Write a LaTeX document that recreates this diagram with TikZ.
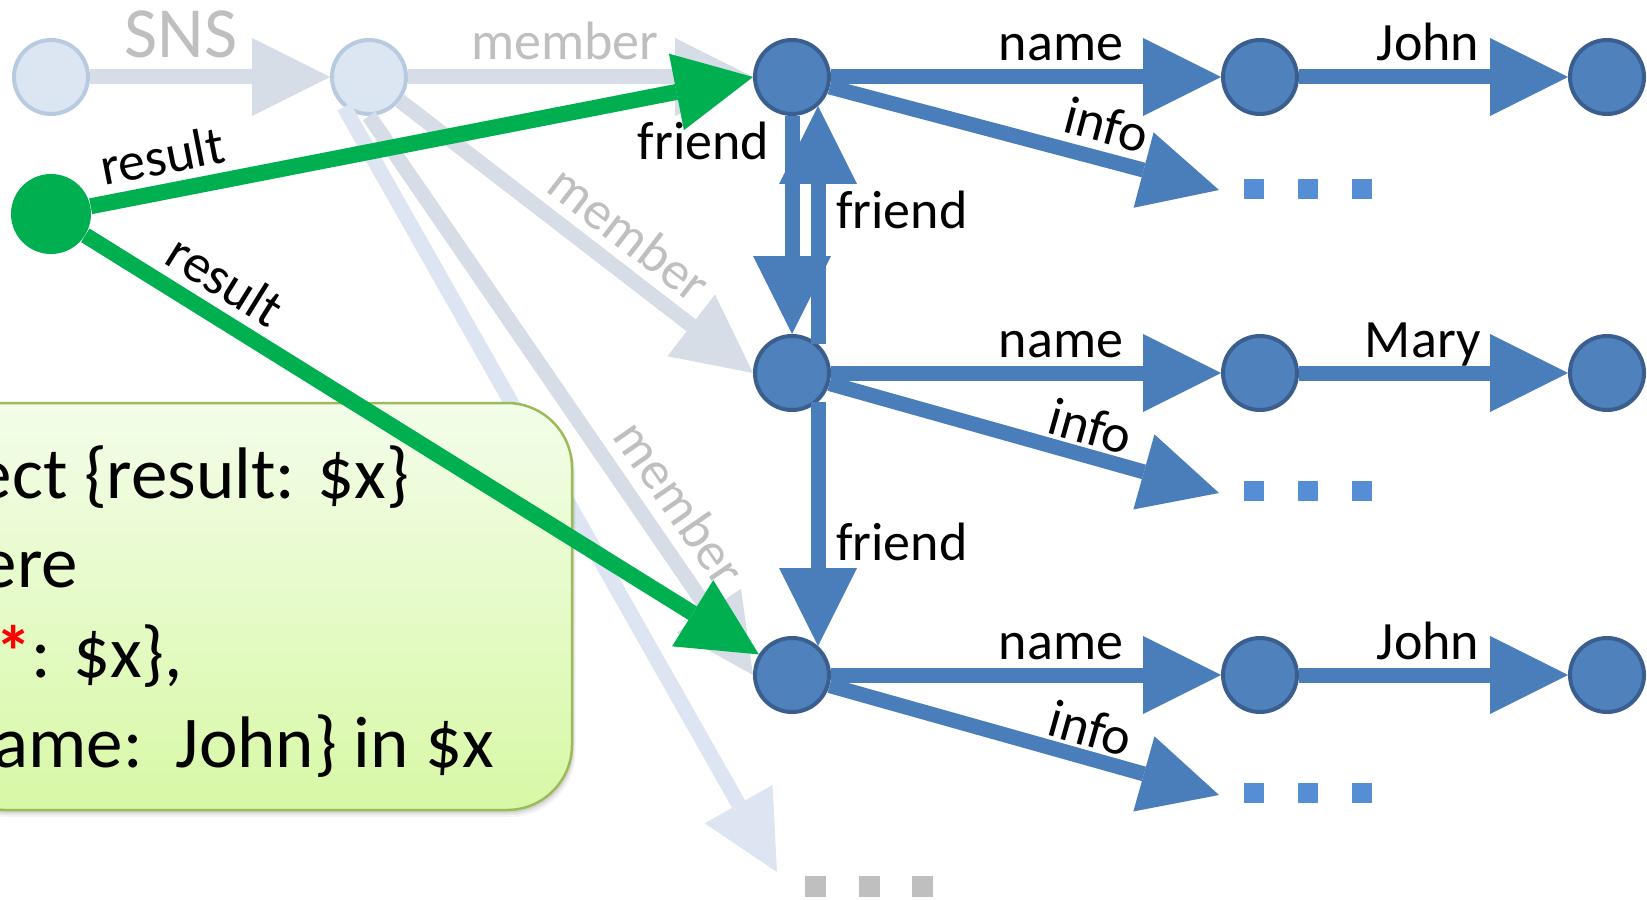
\documentclass[tikz,border=0pt]{standalone}
\usepackage{fontspec}
\setmainfont{Carlito}
\usetikzlibrary{arrows.meta}

\definecolor{nodeblue}{HTML}{4F81BD}
\definecolor{nodeedge}{HTML}{3A5F8E}
\definecolor{linkblue}{HTML}{4A7EBB}
\definecolor{dotblue}{HTML}{558ED5}
\definecolor{fadeline}{HTML}{D6DDE7}
\definecolor{fadelight}{HTML}{DCE5F1}
\definecolor{fadefill}{HTML}{DCE6F2}
\definecolor{fadeedge}{HTML}{B8CAE0}
\definecolor{fadetext}{HTML}{BFBFBF}
\definecolor{resgreen}{HTML}{00B050}
\definecolor{boxedge}{HTML}{9BBB59}
\definecolor{boxtop}{HTML}{F3FDE9}
\definecolor{boxbottom}{HTML}{D8F8A6}

\begin{document}
\begin{tikzpicture}[x=0.5pt, y=-0.5pt,
  vertex/.style={circle, fill=nodeblue, draw=nodeedge, line width=2pt, minimum size=37pt, inner sep=0pt},
  fadedvertex/.style={circle, fill=fadefill, draw=fadeedge, line width=2pt, minimum size=37pt, inner sep=0pt},
  rootvertex/.style={circle, fill=resgreen, minimum size=40pt, inner sep=0pt},
  bigarrow/.style={line width=7.5pt, -{Triangle[length=39pt, width=39pt, line width=0pt]}},
  link/.style={bigarrow, draw=linkblue},
  fadelink/.style={bigarrow, draw=fadeline},
  palelink/.style={bigarrow, draw=fadelight},
  resultlink/.style={line width=8pt, draw=resgreen, -{Triangle[length=39pt, width=39pt, line width=0pt]}},
  lbl/.style={inner sep=0pt, outer sep=0pt, text depth=0pt, text=black, font=\fontsize{27}{32}\selectfont},
  fadelbl/.style={lbl, text=fadetext},
  snslbl/.style={lbl, text=fadetext, font=\fontsize{36}{43}\selectfont},
  querytext/.style={inner sep=0pt, outer sep=0pt, anchor=base east, font=\fontsize{36.5}{44}\selectfont},
  querybox/.style={rectangle, rounded corners=32.5pt, draw=boxedge, line width=1.25pt,
    top color=boxtop, bottom color=boxbottom, minimum width=316pt, minimum height=203.5pt},
]
\useasboundingbox (0,0) rectangle (1647,899);
\clip (0,0) rectangle (1647,899);

% ---- vertices ----
\node[fadedvertex] (F0) at (51,77) {};
\node[fadedvertex] (F1) at (369,77) {};
\node[vertex] (B1) at (792,77) {};
\node[vertex] (B2) at (1260,77) {};
\node[vertex] (B3) at (1607,77) {};
\node[vertex] (C1) at (792,373) {};
\node[vertex] (C2) at (1260,373) {};
\node[vertex] (C3) at (1607,373) {};
\node[vertex] (D1) at (792,675) {};
\node[vertex] (D2) at (1260,675) {};
\node[vertex] (D3) at (1607,675) {};
\coordinate (i1) at (1219,190);
\coordinate (i2) at (1219,493);
\coordinate (i3) at (1219,795);
\coordinate (more) at (777,872);

% ---- faded part of the graph ----
\draw[fadelink] (F0) -- node[snslbl, pos=0.38, above=9.5pt] {SNS} (F1);
\draw[fadelink] (F1) -- node[fadelbl, pos=0.455, above=8.5pt] {member} (B1);
\draw[palelink] (F1.-130) -- (more);
\draw[fadelink] (F1) -- node[fadelbl, pos=0.59, sloped, above=8.5pt] {member} (C1.west);
\draw[fadelink] (F1.south) -- node[fadelbl, pos=0.73, sloped, above=9.5pt] {member} (D1.west);
\foreach \x in {815,869,922}
  \fill[fadetext] (\x-10.5,875.5) rectangle (\x+10.5,896.5);

% ---- persons ----
\draw[link] (B1) -- node[lbl, pos=0.59, above=8pt] {name} (B2);
\draw[link] (B2) -- node[lbl, pos=0.48, above=8pt] {John} (B3);
\draw[link] (B1) -- node[lbl, pos=0.69, sloped, above=8pt] {info} (i1);
\draw[link] (B1) -- node[lbl, pos=0.2, anchor=base east, xshift=-11.5pt] {friend} (C1);
\draw[link] (C1.48) -- node[lbl, pos=0.487, anchor=base west, xshift=9pt] {friend} (B1.-48);

\draw[link] (C1) -- node[lbl, pos=0.59, above=8pt] {name} (C2);
\draw[link] (C2) -- node[lbl, pos=0.46, above=8pt] {Mary} (C3);
\draw[link] (C1) -- node[lbl, pos=0.65, sloped, above=5.5pt] {info} (i2);
\draw[link] (C1.-48) -- node[lbl, pos=0.65, anchor=base west, xshift=9pt] {friend} (D1.48);

\draw[link] (D1) -- node[lbl, pos=0.59, above=8pt] {name} (D2);
\draw[link] (D2) -- node[lbl, pos=0.48, above=8pt] {John} (D3);
\draw[link] (D1) -- node[lbl, pos=0.65, sloped, above=5.5pt] {info} (i3);

\foreach \y in {189,491,793}
  \foreach \x in {1254,1308,1362}
    \fill[dotblue] (\x-10,\y-10) rectangle (\x+10,\y+10);

% ---- query box ----
\foreach \d/\o in {7/0.04, 5/0.06, 3/0.08}
  \fill[black, opacity=\o, rounded corners=32.5pt] (-60+0.5*\d,403+\d) rectangle (572+0.5*\d,810+\d);
\node[querybox] (Q) at (256,606.5) {};
\node[querytext] (q1) at (409,498) {ect \{result: \$x\}};
\node[querytext] (q2) at (78,587) {ere};
\node[querytext] (q3) at (183,677) {\textcolor{red}{\bfseries *}: \$x\},};
\node[querytext] (q4) at (494,767) {ame:~~John\} in \$x};

% ---- result edges ----
\node[rootvertex] (G) at (51,214) {};
\draw[resultlink] (G) -- node[lbl, pos=0.118, sloped, above=8.75pt] {result} (B1.west);
\draw[resultlink] (G) -- node[lbl, pos=0.18, sloped, above=8.75pt] {result} (D1);
\end{tikzpicture}
\end{document}
